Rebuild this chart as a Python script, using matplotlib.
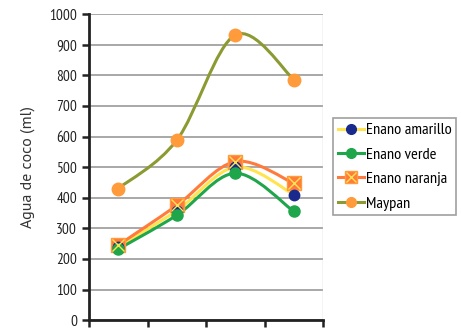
import numpy as np
import matplotlib
matplotlib.use('Agg')
import matplotlib.pyplot as plt
from matplotlib.path import Path
from matplotlib.patches import PathPatch
from matplotlib.lines import Line2D

# data
categories = ['1', '2', '3', '4']
series_names = ['Enano amarillo', 'Enano verde', 'Enano naranja', 'Maypan']
enano_amarillo = [240, 358, 500, 410]
enano_verde = [232, 343, 480, 355]
enano_naranja = [245, 375, 518, 447]
maypan = [430, 588, 932, 786]
yticks = [0, 100, 200, 300, 400, 500, 600, 700, 800, 900, 1000]

line_colors = ['#FFE450', '#1FA64A', '#FF7A3C', '#8C9A32']
marker_face = ['#1A2A8C', '#1FA64A', '#FF7A3C', '#FF9B3A']
markers = ['o', 'o', 's', 'o']
msizes = [7.5, 8, 10.5, 9]

narrow = ['PT Sans Narrow', 'Open Sans Condensed', 'DejaVu Sans']
plt.rcParams['font.family'] = narrow

fig = plt.figure(figsize=(4.61, 3.28), dpi=100)
ax = fig.add_axes([0.193, 0.024, 0.508, 0.933])


def smooth_path(x, y, t=1/6):
    # excel-like smoothed line: cubic bezier segments through the points
    x = np.asarray(x, float)
    y = np.asarray(y, float)
    verts = [(x[0], y[0])]
    codes = [Path.MOVETO]
    n = len(x)
    for i in range(n - 1):
        p0 = (x[max(i - 1, 0)], y[max(i - 1, 0)])
        p1 = (x[i], y[i])
        p2 = (x[i + 1], y[i + 1])
        p3 = (x[min(i + 2, n - 1)], y[min(i + 2, n - 1)])
        c1 = (p1[0] + (p2[0] - p0[0]) * t, p1[1] + (p2[1] - p0[1]) * t)
        c2 = (p2[0] - (p3[0] - p1[0]) * t, p2[1] - (p3[1] - p1[1]) * t)
        verts += [c1, c2, p2]
        codes += [Path.CURVE4] * 3
    return Path(verts, codes)


xs = np.arange(len(categories))
all_series = [enano_amarillo, enano_verde, enano_naranja, maypan]
order = [3, 2, 0, 1]
for i in order:
    vals = all_series[i]
    ax.add_patch(PathPatch(smooth_path(xs, vals), facecolor='none',
                           edgecolor=line_colors[i], lw=2.2, zorder=3 + i * 0.1))
for i in order:
    vals = all_series[i]
    if markers[i] == 's':
        ax.plot(xs, vals, ls='none', marker='s', ms=msizes[i], mfc=marker_face[i],
                mec='#FF9B3A', zorder=5)
        ax.plot(xs, vals, ls='none', marker='x', ms=msizes[i] * 0.8, mec='#FFE450',
                mew=1.0, zorder=6)
    else:
        ax.plot(xs, vals, ls='none', marker=markers[i], ms=msizes[i],
                mfc=marker_face[i], mec=marker_face[i], zorder=5)

ax.set_xlim(-0.5, len(categories) - 0.5)
ax.set_ylim(0, 1000)
ax.set_yticks(yticks)
ax.set_yticklabels([str(v) for v in yticks], fontsize=11, color='#222222')
ax.set_xticks(np.arange(len(categories) + 1) - 0.5)
ax.set_xticklabels([])
ax.tick_params(axis='both', direction='out', length=5, width=1.8, color='#222222')
ax.grid(axis='y', color='#9A9A9A', lw=1.2)
ax.set_axisbelow(True)
for s in ['top', 'right']:
    ax.spines[s].set_visible(False)
ax.spines['left'].set_linewidth(2)
ax.spines['bottom'].set_linewidth(2)
ax.spines['left'].set_color('#222222')
ax.spines['bottom'].set_color('#222222')
ax.axvline(len(categories) - 0.5, color='#C8C8C8', lw=1)
ax.set_ylabel('Agua de coco (ml)', fontsize=11.5,
              family=['PT Sans', 'Open Sans', 'DejaVu Sans'],
              color='#333333', labelpad=10)

handles = []
for i in range(4):
    if markers[i] == 's':
        h = (Line2D([], [], color=line_colors[i], lw=2.2, marker='s', ms=9,
                    mfc=marker_face[i], mec='#FF9B3A'),
             Line2D([], [], ls='none', marker='x', ms=7, mec='#FFE450', mew=1.0))
    else:
        h = Line2D([], [], color=line_colors[i], lw=2.2, marker='o', ms=7,
                   mfc=marker_face[i], mec=marker_face[i])
    handles.append(h)
leg = fig.legend(handles, series_names, loc='upper left',
                 bbox_to_anchor=(0.722, 0.64), fontsize=11.8, frameon=True,
                 fancybox=False, edgecolor='#888888', handlelength=1.6,
                 handletextpad=0.1, borderpad=0.3, labelspacing=0.6,
                 borderaxespad=0)
leg.get_frame().set_linewidth(1.2)

fig.savefig('out.png', dpi=100)
